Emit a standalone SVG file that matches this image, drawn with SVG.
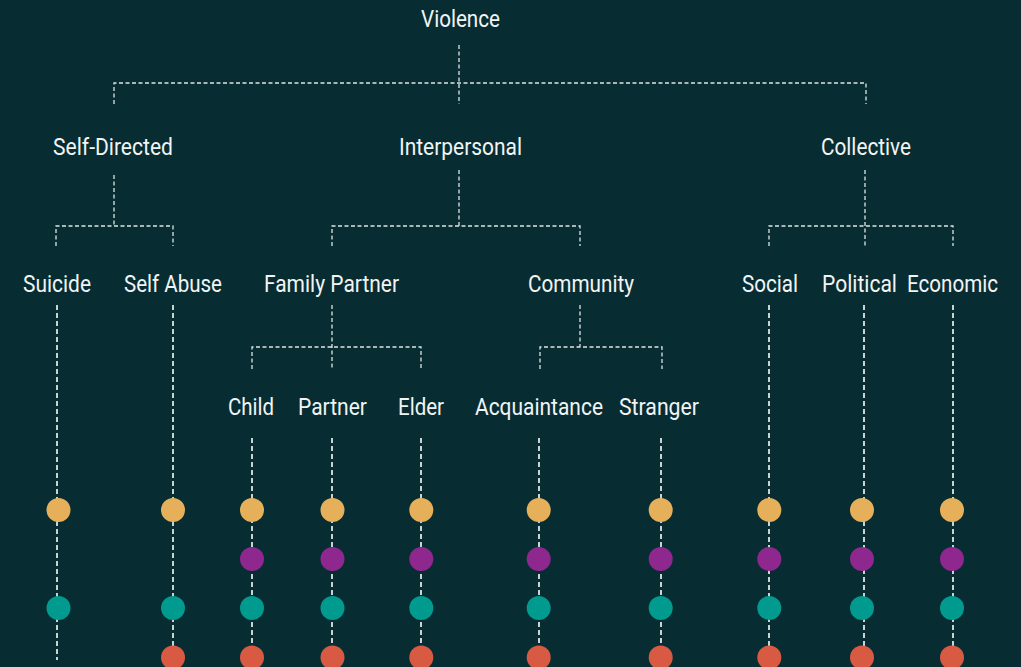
<svg xmlns="http://www.w3.org/2000/svg" width="1021" height="667" viewBox="0 0 1021 667">
<style>
.bg{fill:#072d33}
.t{font-family:Roboto,"Liberation Sans",sans-serif;font-size:24px;fill:#f2f4f4;text-anchor:middle}
.c{stroke:#dfe5e6;stroke-width:1.3;stroke-dasharray:4 2.5;fill:none}
.v{stroke:#dfe5e6;stroke-width:1.8;stroke-dasharray:5 3;fill:none}
.y{fill:#e6b05a}.p{fill:#8e278e}.g{fill:#009a8f}.o{fill:#d95a43}
</style>
<rect class="bg" x="0" y="0" width="1021" height="667"/>
<g id="connectors">
<path class="c" d="M459 45V104M114 104V83H866V104"/>
<path class="c" d="M114 175V226M56 246V226H173V246"/>
<path class="c" d="M459 170V226M332 246V226H580V246"/>
<path class="c" d="M865 170V246M769 246V226H953V246"/>
<path class="c" d="M332 305V369M252 369V347H421V369"/>
<path class="c" d="M580 305V347M540 369V347H662V369"/>
<path class="v" d="M57 305V660M173 305V660M769 305V667M864 305V667M953 305V667"/>
<path class="v" d="M252 438V667M332 438V667M421 438V667M539 438V667M661 438V667"/>
</g>
<g id="n-violence"><text class="t" x="460.5" y="27" textLength="79" lengthAdjust="spacingAndGlyphs">Violence</text></g>
<g id="n-self-directed"><text class="t" x="113" y="155" textLength="120" lengthAdjust="spacingAndGlyphs">Self-Directed</text></g>
<g id="n-interpersonal"><text class="t" x="460.5" y="155" textLength="123" lengthAdjust="spacingAndGlyphs">Interpersonal</text></g>
<g id="n-collective"><text class="t" x="866" y="155" textLength="90" lengthAdjust="spacingAndGlyphs">Collective</text></g>
<g id="n-suicide"><text class="t" x="57" y="292" textLength="68" lengthAdjust="spacingAndGlyphs">Suicide</text></g>
<g id="n-self-abuse"><text class="t" x="173" y="292" textLength="98" lengthAdjust="spacingAndGlyphs">Self Abuse</text></g>
<g id="n-family-partner"><text class="t" x="331.5" y="292" textLength="135" lengthAdjust="spacingAndGlyphs">Family Partner</text></g>
<g id="n-community"><text class="t" x="581" y="292" textLength="106" lengthAdjust="spacingAndGlyphs">Community</text></g>
<g id="n-social"><text class="t" x="770" y="292" textLength="56" lengthAdjust="spacingAndGlyphs">Social</text></g>
<g id="n-political"><text class="t" x="859.5" y="292" textLength="75" lengthAdjust="spacingAndGlyphs">Political</text></g>
<g id="n-economic"><text class="t" x="952.5" y="292" textLength="91" lengthAdjust="spacingAndGlyphs">Economic</text></g>
<g id="n-child"><text class="t" x="251" y="415" textLength="46" lengthAdjust="spacingAndGlyphs">Child</text></g>
<g id="n-partner"><text class="t" x="332.5" y="415" textLength="69" lengthAdjust="spacingAndGlyphs">Partner</text></g>
<g id="n-elder"><text class="t" x="421" y="415" textLength="46" lengthAdjust="spacingAndGlyphs">Elder</text></g>
<g id="n-acquaintance"><text class="t" x="539" y="415" textLength="128" lengthAdjust="spacingAndGlyphs">Acquaintance</text></g>
<g id="n-stranger"><text class="t" x="659" y="415" textLength="80" lengthAdjust="spacingAndGlyphs">Stranger</text></g>
<g id="dots-suicide"><circle class="y" cx="58.5" cy="510" r="12"/><circle class="g" cx="58.5" cy="608" r="12"/></g>
<g id="dots-self-abuse"><circle class="y" cx="173" cy="510" r="12"/><circle class="g" cx="173" cy="608" r="12"/><circle class="o" cx="173" cy="657.5" r="12"/></g>
<g id="dots-child"><circle class="y" cx="252" cy="510" r="12"/><circle class="p" cx="252" cy="559" r="12"/><circle class="g" cx="252" cy="608" r="12"/><circle class="o" cx="252" cy="657.5" r="12"/></g>
<g id="dots-partner"><circle class="y" cx="332.5" cy="510" r="12"/><circle class="p" cx="332.5" cy="559" r="12"/><circle class="g" cx="332.5" cy="608" r="12"/><circle class="o" cx="332.5" cy="657.5" r="12"/></g>
<g id="dots-elder"><circle class="y" cx="421.3" cy="510" r="12"/><circle class="p" cx="421.3" cy="559" r="12"/><circle class="g" cx="421.3" cy="608" r="12"/><circle class="o" cx="421.3" cy="657.5" r="12"/></g>
<g id="dots-acquaintance"><circle class="y" cx="538.7" cy="510" r="12"/><circle class="p" cx="538.7" cy="559" r="12"/><circle class="g" cx="538.7" cy="608" r="12"/><circle class="o" cx="538.7" cy="657.5" r="12"/></g>
<g id="dots-stranger"><circle class="y" cx="660.7" cy="510" r="12"/><circle class="p" cx="660.7" cy="559" r="12"/><circle class="g" cx="660.7" cy="608" r="12"/><circle class="o" cx="660.7" cy="657.5" r="12"/></g>
<g id="dots-social"><circle class="y" cx="769.3" cy="510" r="12"/><circle class="p" cx="769.3" cy="559" r="12"/><circle class="g" cx="769.3" cy="608" r="12"/><circle class="o" cx="769.3" cy="657.5" r="12"/></g>
<g id="dots-political"><circle class="y" cx="862" cy="510" r="12"/><circle class="p" cx="862" cy="559" r="12"/><circle class="g" cx="862" cy="608" r="12"/><circle class="o" cx="862" cy="657.5" r="12"/></g>
<g id="dots-economic"><circle class="y" cx="952" cy="510" r="12"/><circle class="p" cx="952" cy="559" r="12"/><circle class="g" cx="952" cy="608" r="12"/><circle class="o" cx="952" cy="657.5" r="12"/></g>
</svg>
